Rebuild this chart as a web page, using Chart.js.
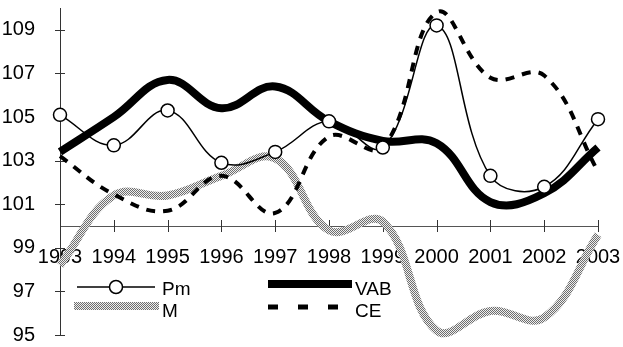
<!DOCTYPE html>
<html>
<head>
<meta charset="utf-8">
<script src="https://cdn.jsdelivr.net/npm/chart.js@4"></script>
<style>
  html, body { margin: 0; padding: 0; background: #fff; }
  #wrap { width: 623px; height: 347px; }
</style>
</head>
<body>
<div id="wrap"><canvas id="chart" width="623" height="347"></canvas></div>
<script>
const years = ["1993", "1994", "1995", "1996", "1997", "1998", "1999", "2000", "2001", "2002", "2003"];
const pmValues = [105.1, 103.7, 105.3, 102.9, 103.4, 104.8, 103.6, 109.2, 102.3, 101.8, 104.9];
const vabValues = [103.4, 105.0, 106.7, 105.4, 106.4, 104.8, 103.9, 103.8, 101.1, 101.5, 103.6];
const mValues = [98.2, 101.4, 101.4, 102.3, 103.1, 99.8, 100.2, 95.2, 96.1, 95.8, 99.6];
const ceValues = [103.2, 101.45, 100.7, 102.3, 100.6, 104.1, 103.6, 109.8, 106.8, 106.9, 102.5];
const yTicks = [95, 97, 99, 101, 103, 105, 107, 109];

const FONT = "'Liberation Sans', Arial, sans-serif";

/* ---------- stipple pattern for the M line ---------- */
function makeStipple() {
  const c = document.createElement("canvas");
  c.width = 2;
  c.height = 2;
  const g = c.getContext("2d");
  g.fillStyle = "#eeeeee";
  g.fillRect(0, 0, 2, 2);
  g.fillStyle = "#6e6e6e";
  g.fillRect(0, 0, 1, 1);
  g.fillRect(1, 1, 1, 1);
  return g.createPattern(c, "repeat");
}
const stipple = makeStipple();

/* ---------- crossing tick marks + legend ---------- */
const extras = {
  id: "extras",
  beforeDatasetsDraw(chart) {
    const { ctx, scales } = chart;
    const x = scales.x, y = scales.y;
    const axisY = y.getPixelForValue(100);
    ctx.save();
    ctx.strokeStyle = "#333";
    ctx.lineWidth = 1;
    ctx.beginPath();
    yTicks.forEach(v => {
      const py = Math.round(y.getPixelForValue(v)) + 0.5;
      ctx.moveTo(y.right - 5, py);
      ctx.lineTo(y.right + 5, py);
    });
    years.forEach((_, i) => {
      const px = Math.round(x.getPixelForValue(i)) + 0.5;
      ctx.moveTo(px, axisY - 6);
      ctx.lineTo(px, axisY + 6);
    });
    ctx.stroke();
    ctx.restore();
  },
  afterDraw(chart) {
    const ctx = chart.ctx;
    ctx.save();
    ctx.font = "19px " + FONT;
    ctx.fillStyle = "#000";
    ctx.textBaseline = "alphabetic";

    // Pm
    ctx.strokeStyle = "#000";
    ctx.lineWidth = 1.5;
    ctx.beginPath();
    ctx.moveTo(77, 287);
    ctx.lineTo(155, 287);
    ctx.stroke();
    ctx.beginPath();
    ctx.arc(116, 287, 6.5, 0, Math.PI * 2);
    ctx.fillStyle = "#fff";
    ctx.fill();
    ctx.stroke();
    ctx.fillStyle = "#000";
    ctx.fillText("Pm", 162, 295);

    // M
    ctx.strokeStyle = stipple;
    ctx.lineWidth = 8;
    ctx.beginPath();
    ctx.moveTo(74, 306);
    ctx.lineTo(159, 306);
    ctx.stroke();
    ctx.fillText("M", 162, 317);

    // VAB
    ctx.strokeStyle = "#000";
    ctx.lineWidth = 8;
    ctx.beginPath();
    ctx.moveTo(268, 284);
    ctx.lineTo(352, 284);
    ctx.stroke();
    ctx.fillText("VAB", 355, 295);

    // CE
    ctx.lineWidth = 5;
    ctx.setLineDash([10, 20]);
    ctx.beginPath();
    ctx.moveTo(268, 307);
    ctx.lineTo(340, 307);
    ctx.stroke();
    ctx.setLineDash([]);
    ctx.fillText("CE", 355, 317);
    ctx.restore();
  }
};

new Chart(document.getElementById("chart"), {
  type: "line",
  data: {
    labels: years,
    datasets: [
      {
        label: "Pm",
        data: pmValues,
        borderColor: "#000",
        borderWidth: 1.5,
        pointRadius: 6.5,
        pointBorderWidth: 1.5,
        pointBackgroundColor: "#fff",
        pointBorderColor: "#000",
        tension: 0.4,
        order: 0,
        clip: false
      },
      {
        label: "VAB",
        data: vabValues,
        borderColor: "#000",
        borderWidth: 8,
        pointRadius: 0,
        tension: 0.4,
        order: 1,
        clip: false
      },
      {
        label: "M",
        data: mValues,
        borderColor: stipple,
        borderWidth: 8,
        pointRadius: 0,
        tension: 0.4,
        order: 3,
        clip: false
      },
      {
        label: "CE",
        data: ceValues,
        borderColor: "#000",
        borderWidth: 4,
        borderDash: [9, 8],
        pointRadius: 0,
        tension: 0.4,
        order: 2,
        clip: false
      }
    ]
  },
  options: {
    responsive: false,
    animation: false,
    layout: { padding: { left: 0, right: 25, top: 5, bottom: 12 } },
    plugins: {
      legend: { display: false },
      tooltip: { enabled: false }
    },
    elements: { line: { capBezierPoints: false } },
    scales: {
      x: {
        type: "category",
        offset: false,
        position: { y: 100 },
        grid: { display: false },
        border: { display: true, color: "#555", width: 1 },
        ticks: {
          color: "#000",
          font: { family: FONT, size: 20 },
          padding: 11,
          maxRotation: 0,
          autoSkip: false
        },
        afterFit(scale) {
          scale.paddingLeft = 0;
          scale.paddingRight = 0;
        }
      },
      y: {
        min: 95,
        max: 110,
        grid: { display: false },
        border: { display: true, color: "#333", width: 1 },
        ticks: {
          color: "#000",
          font: { family: FONT, size: 20 },
          padding: 17
        },
        afterBuildTicks(scale) {
          scale.ticks = yTicks.map(v => ({ value: v }));
        },
        afterFit(scale) {
          scale.width = 60;
          scale.paddingTop = 0;
          scale.paddingBottom = 0;
        }
      }
    }
  },
  plugins: [extras]
});
</script>
</body>
</html>
